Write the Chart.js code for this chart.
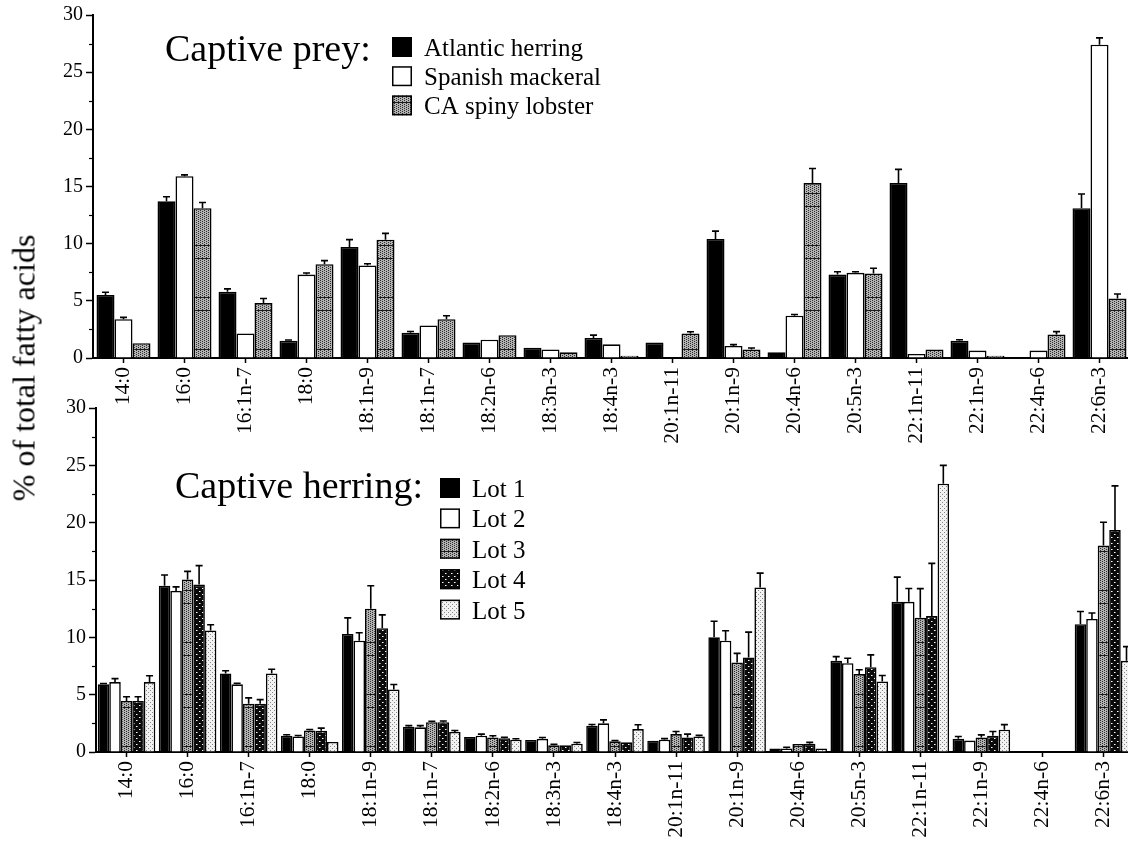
<!DOCTYPE html>
<html>
<head>
<meta charset="utf-8">
<script src="https://cdn.jsdelivr.net/npm/chart.js@4.4.1/dist/chart.umd.min.js"></script>
<style>
  html, body { margin: 0; padding: 0; background: #fff; overflow: hidden; }
  body { width: 1128px; height: 843px; position: relative; }
  canvas { position: absolute; left: 0; }
  #prey { top: 0; }
  #lots { top: 380px; }
  #yTitle {
    position: absolute; left: 24px; top: 368px;
    transform: translate(-50%, -50%) rotate(-90deg);
    font: 32px "Liberation Serif", "Times New Roman", serif;
    white-space: nowrap; color: #000;
  }
</style>
</head>
<body>
<canvas id="prey" width="1130" height="460"></canvas>
<canvas id="lots" width="1134" height="463"></canvas>
<div id="yTitle">% of total fatty acids</div>
<script>
// fatty acid categories (same for both panels)
const fattyAcids = ['14:0', '16:0', '16:1n-7', '18:0', '18:1n-9', '18:1n-7', '18:2n-6', '18:3n-3',
  '18:4n-3', '20:1n-11', '20:1n-9', '20:4n-6', '20:5n-3', '22:1n-11', '22:1n-9', '22:4n-6', '22:6n-3'];

// top panel: captive prey
const herring     = [5.5, 13.7, 5.8, 1.5, 9.7, 2.2, 1.35, 0.9, 1.75, 1.35, 10.4, 0.5, 7.3, 15.3, 1.5, 0, 13.1];
const herringErr  = [0.25, 0.4, 0.25, 0.08, 0.65, 0.12, 0, 0, 0.25, 0, 0.7, 0, 0.25, 1.2, 0.1, 0, 1.25];
const mackerel    = [3.4, 15.9, 2.15, 7.3, 8.1, 2.85, 1.6, 0.75, 1.2, 0, 1.05, 3.7, 7.45, 0.35, 0.65, 0.65, 27.4];
const mackerelErr = [0.15, 0.12, 0, 0.14, 0.14, 0, 0, 0, 0, 0, 0.12, 0.1, 0.1, 0, 0, 0, 0.6];
const lobster     = [1.3, 13.1, 4.8, 8.2, 10.35, 3.4, 2.0, 0.5, 0.2, 2.15, 0.75, 15.3, 7.4, 0.75, 0.2, 2.05, 5.2];
const lobsterErr  = [0, 0.5, 0.4, 0.32, 0.55, 0.3, 0, 0, 0, 0.14, 0.12, 1.27, 0.45, 0, 0, 0.26, 0.4];

// bottom panel: captive herring lots
const lot1    = [5.9, 14.5, 6.85, 1.42, 10.3, 2.2, 1.3, 1.05, 2.3, 0.98, 10.0, 0.3, 7.95, 13.1, 1.15, 0, 11.15];
const lot1Err = [0.08, 0.93, 0.23, 0.08, 1.4, 0.1, 0, 0, 0.1, 0, 1.4, 0, 0.37, 2.15, 0.2, 0, 1.1];
const lot2    = [6.1, 14.05, 5.9, 1.36, 9.7, 2.15, 1.42, 1.15, 2.5, 1.07, 9.7, 0.3, 7.75, 13.1, 1.0, 0, 11.6];
const lot2Err = [0.3, 0.35, 0.09, 0.08, 0.7, 0.15, 0.14, 0.11, 0.3, 0.1, 0.87, 0.12, 0.43, 1.16, 0, 0, 0.52];
const lot3    = [4.45, 15.05, 4.2, 1.88, 12.5, 2.6, 1.27, 0.58, 0.93, 1.56, 7.8, 0.7, 6.8, 11.7, 1.27, 0, 18.0];
const lot3Err = [0.37, 0.7, 0.52, 0.08, 2.0, 0.08, 0.15, 0.1, 0.07, 0.23, 0.8, 0, 0.37, 2.55, 0.22, 0, 2.03];
const lot4    = [4.45, 14.6, 4.2, 1.85, 10.8, 2.6, 1.2, 0.58, 0.84, 1.27, 8.25, 0.73, 7.4, 11.85, 1.42, 0, 19.35];
const lot4Err = [0.37, 1.65, 0.37, 0.23, 1.16, 0.1, 0.08, 0, 0, 0.29, 2.2, 0.11, 1.07, 4.6, 0.37, 0, 3.86];
const lot5    = [6.1, 10.6, 6.85, 0.87, 5.45, 1.75, 1.07, 0.73, 2.0, 1.36, 14.35, 0.3, 6.15, 23.4, 1.95, 0, 7.95];
const lot5Err = [0.55, 0.5, 0.37, 0, 0.44, 0.12, 0.08, 0.1, 0.38, 0.09, 1.25, 0, 0.52, 1.6, 0.44, 0, 1.24];

const yMax = 30;
const FONT = '"Liberation Serif", "Times New Roman", serif';

// --- fill patterns ---
function tile(w, h, draw) {
  const c = document.createElement('canvas');
  c.width = w; c.height = h;
  const g = c.getContext('2d');
  draw(g);
  return g.createPattern(c, 'repeat');
}

// gray stipple with the faint horizontal lines of the original
function grayStipple(lineAt) {
  return tile(4, 52, g => {
    g.fillStyle = '#b2b2b2';
    g.fillRect(0, 0, 4, 52);
    g.fillStyle = '#2c2c2c';
    for (let y = 0; y < 52; y++)
      for (let x = 0; x < 4; x++)
        if ((x + 2 * (y % 2)) % 4 === 0) g.fillRect(x, y, 1, 1);
    g.fillStyle = '#1a1a1a';
    g.fillRect(0, lineAt % 52, 4, 1);
    g.fillRect(0, (lineAt + 13) % 52, 4, 1);
  });
}

const darkDots = tile(6, 6, g => {
  g.fillStyle = '#0a0a0a';
  g.fillRect(0, 0, 6, 6);
  g.fillStyle = '#ffffff';
  g.fillRect(1, 1, 1, 1);
  g.fillRect(4, 4, 1, 1);
  g.fillStyle = '#8a8a8a';
  g.fillRect(2, 1, 1, 1);
  g.fillRect(5, 4, 1, 1);
});

const lightDots = tile(4, 4, g => {
  g.fillStyle = '#f2f2f2';
  g.fillRect(0, 0, 4, 4);
  g.fillStyle = '#858585';
  g.fillRect(0, 0, 1, 1);
  g.fillRect(2, 2, 1, 1);
});

// --- plugins ---
const errorBars = {
  id: 'errorBars',
  afterDatasetsDraw(chart) {
    const { ctx } = chart;
    const y = chart.scales.y;
    ctx.save();
    ctx.strokeStyle = '#000';
    ctx.lineWidth = 1.6;
    chart.data.datasets.forEach((ds, i) => {
      chart.getDatasetMeta(i).data.forEach((bar, j) => {
        const e = ds.errors[j];
        if (!e) return;
        const top = y.getPixelForValue(ds.data[j] + e);
        ctx.beginPath();
        ctx.moveTo(bar.x, bar.y);
        ctx.lineTo(bar.x, top);
        ctx.moveTo(bar.x - 3.5, top);
        ctx.lineTo(bar.x + 3.5, top);
        ctx.stroke();
      });
    });
    ctx.restore();
  }
};

const minorTicks = {
  id: 'minorTicks',
  afterDraw(chart) {
    const { ctx, chartArea } = chart;
    const y = chart.scales.y;
    ctx.save();
    ctx.strokeStyle = '#000';
    ctx.lineWidth = 1.2;
    y.ticks.forEach(t => {
      if (t.value % 5 === 0) return;
      const py = Math.round(y.getPixelForValue(t.value)) + 0.5;
      ctx.beginPath();
      ctx.moveTo(chartArea.left - 4, py);
      ctx.lineTo(chartArea.left, py);
      ctx.stroke();
    });
    ctx.restore();
  }
};

// panel title plus the boxed legend to its right
const panelKey = {
  id: 'panelKey',
  afterDraw(chart, args, o) {
    const { ctx } = chart;
    ctx.save();
    ctx.fillStyle = '#000';
    ctx.textBaseline = 'alphabetic';
    ctx.font = '38px ' + FONT;
    ctx.fillText(o.title, o.titleX, o.titleY);
    ctx.font = '25px ' + FONT;
    chart.data.datasets.forEach((ds, i) => {
      const base = o.firstBaseline + i * o.rowGap;
      ctx.fillStyle = ds.backgroundColor;
      ctx.fillRect(o.boxX, base - 19, 20, 20);
      ctx.strokeStyle = '#000';
      ctx.lineWidth = 1.5;
      ctx.strokeRect(o.boxX + 0.75, base - 18.25, 18.5, 18.5);
      ctx.fillStyle = '#000';
      ctx.fillText(ds.label, o.boxX + 32, base);
    });
    ctx.restore();
  }
};

function barSet(label, data, errors, fill) {
  return {
    label, data, errors,
    backgroundColor: fill,
    borderColor: '#000',
    borderWidth: 1.6,
    categoryPercentage: 1,
    barPercentage: 1
  };
}

function makePanel(id, datasets, cfg) {
  datasets.forEach(d => { d.categoryPercentage = cfg.groupWidth; });
  return new Chart(document.getElementById(id), {
    type: 'bar',
    data: { labels: fattyAcids, datasets },
    plugins: [errorBars, minorTicks, panelKey],
    options: {
      responsive: false,
      animation: false,
      layout: { padding: { top: cfg.padTop, left: 0, right: 0, bottom: 0 } },
      plugins: {
        legend: { display: false },
        tooltip: { enabled: false },
        panelKey: cfg.key
      },
      scales: {
        x: {
          afterFit: s => { s.height = cfg.xHeight; },
          border: { display: true, color: '#000', width: 2 },
          grid: { drawOnChartArea: false, offset: false, tickLength: 5, tickColor: '#000', tickWidth: 1.5 },
          ticks: {
            minRotation: 90, maxRotation: 90, autoSkip: false, padding: 4,
            color: '#000', font: { family: FONT, size: 21.5 }
          }
        },
        y: {
          min: 0, max: yMax,
          afterFit: s => { s.width = cfg.yWidth; },
          border: { display: true, color: '#000', width: 2 },
          grid: {
            drawOnChartArea: false, tickLength: 7, tickWidth: 1.5,
            tickColor: c => (c.tick && c.tick.value % 5 === 0) ? '#000' : 'rgba(0,0,0,0)'
          },
          ticks: {
            stepSize: 2.5, padding: 3, color: '#000',
            font: { family: FONT, size: 20 },
            callback: v => (v % 5 === 0 ? v : '')
          }
        }
      }
    }
  });
}

makePanel('prey', [
  barSet('Atlantic herring', herring, herringErr, '#000'),
  barSet('Spanish mackeral', mackerel, mackerelErr, '#fff'),
  barSet('CA spiny lobster', lobster, lobsterErr, grayStipple(37))
], {
  groupWidth: 0.885, padTop: 13, xHeight: 102, yWidth: 93,
  key: { title: 'Captive prey:', titleX: 165, titleY: 61, boxX: 392, firstBaseline: 56, rowGap: 29.2 }
});

makePanel('lots', [
  barSet('Lot 1', lot1, lot1Err, '#000'),
  barSet('Lot 2', lot2, lot2Err, '#fff'),
  barSet('Lot 3', lot3, lot3Err, grayStipple(2)),
  barSet('Lot 4', lot4, lot4Err, darkDots),
  barSet('Lot 5', lot5, lot5Err, lightDots)
], {
  groupWidth: 0.943, padTop: 28, xHeight: 91, yWidth: 96,
  key: { title: 'Captive herring:', titleX: 175, titleY: 118, boxX: 440, firstBaseline: 117, rowGap: 30.4 }
});
</script>
</body>
</html>
